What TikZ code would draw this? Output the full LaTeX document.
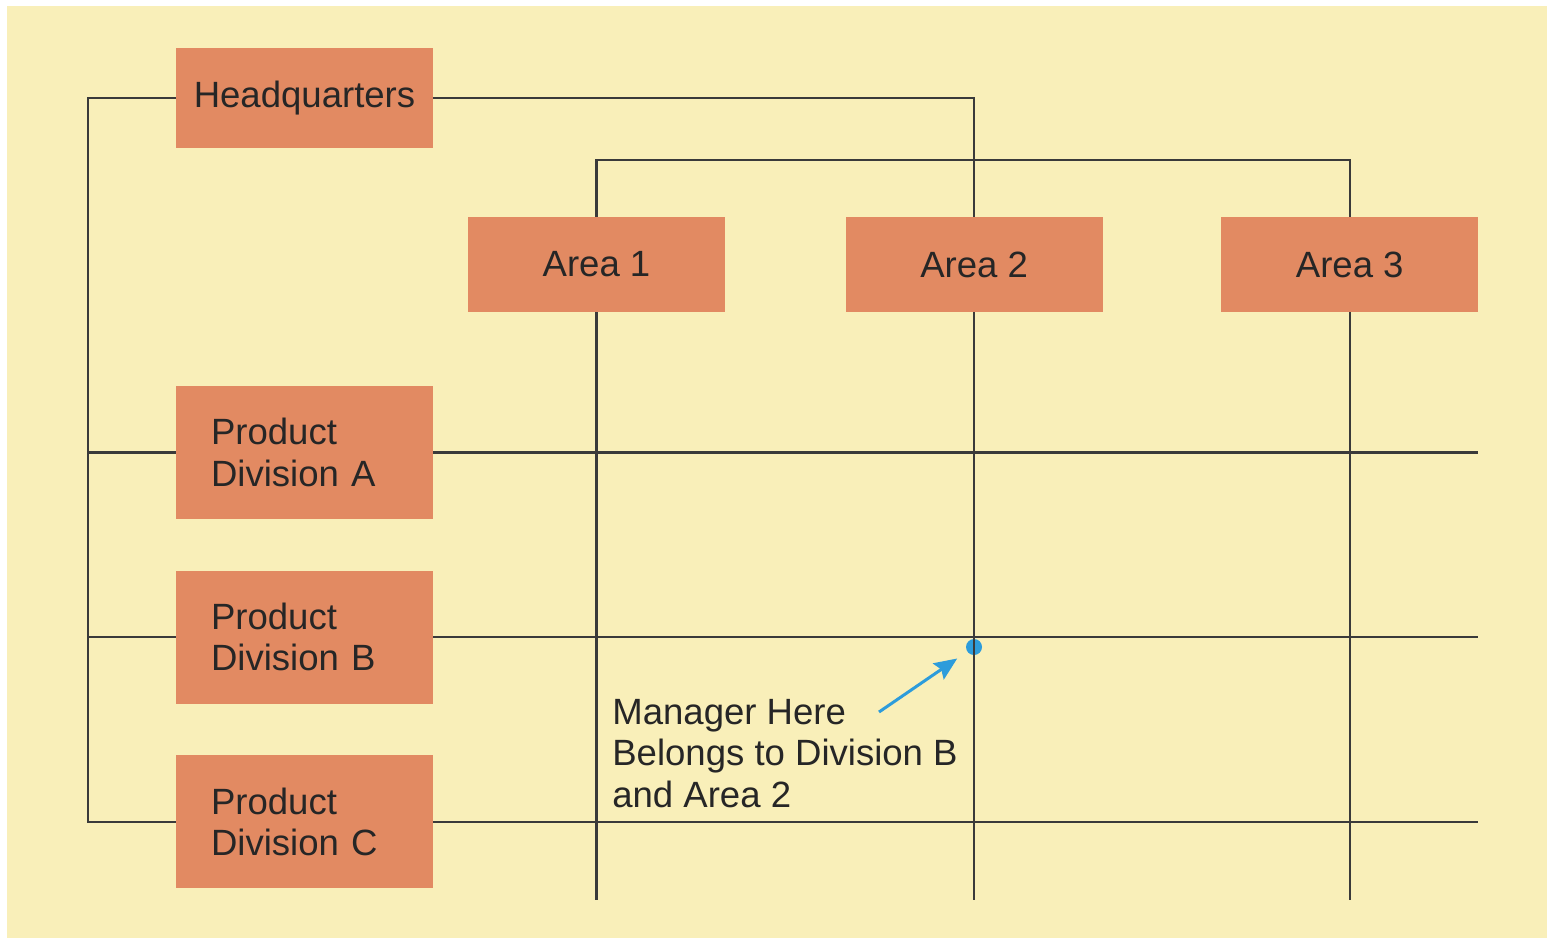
\documentclass[tikz,border=0pt]{standalone}
\usepackage{fontspec}
\setmainfont{Liberation Sans}
\usepackage{tikz}
\usetikzlibrary{arrows.meta,positioning}
\definecolor{paper}{RGB}{249,239,185}
\definecolor{brick}{RGB}{226,138,98}
\definecolor{wire}{RGB}{58,58,58}
\definecolor{pin}{RGB}{45,156,219}
\newcommand{\boxfont}{\fontsize{20.8pt}{23.5pt}\selectfont}
\tikzset{
    %Define style for boxes
    unitrect/.style={
           rectangle,
           fill=brick,
           minimum width=5.14cm,
           minimum height=1.9cm,
           inner sep=0pt,
           font=\boxfont,
           text=black!85,
           text centered},
    hqrect/.style={
           unitrect,
           minimum height=2cm},
    divrect/.style={
           unitrect,
           minimum height=2.66cm,
           text width=3.74cm,
           align=left,
           inner xsep=0.7cm},
    note/.style={
           font=\boxfont,
           align=left,
           inner sep=0pt,
           text=black!85},
    dot/.style={
           circle,
           fill=pin,
           minimum size=0.32cm,
           inner sep=0pt},
    % Define line styles
    wireline/.style={
           draw=wire,
           line width=1.3pt},
    pointer/.style={
           draw=pin,
           line width=1.7pt,
           -{Stealth[length=13pt,width=11pt,inset=2pt]},
           shorten >=0.24cm}
}
\begin{document}
\begin{tikzpicture}[x=0.02cm,y=-0.02cm]
\fill[paper] (7,6) rectangle (1547,938);
\useasboundingbox (0,0) rectangle (1547,940);
\node[hqrect](1) at (304.5,98){Headquarters};
\node[unitrect](2) at (596.5,264.5){Area 1};
\node[unitrect, right=2.4cm of 2](3){Area 2};
\node[unitrect, right=2.36cm of 3](4){Area 3};
\node[divrect](5) at (304.5,452.5){Product\\Division A};
\node[divrect, below=1.02cm of 5](6){Product\\Division B};
\node[divrect, below=1.02cm of 6](7){Product\\Division C};
\node[note, anchor=north west](8) at (612,699){Manager Here\\Belongs to Division B\\and Area 2};
\node[dot](9) at (974,647){};
\coordinate (spine) at (88,0);
\coordinate (rim) at (1478,0);
\coordinate (foot) at (0,900);
\coordinate (bar) at (0,160);
\coordinate (tail) at (879,712);
\path[wireline]
	(1.west) -| (spine |- 7.west) -- (7.west)
	(spine |- 5.west) -- (5.west)
	(spine |- 6.west) -- (6.west)
	(1.east) -| (3.north)
	(2.north) |- (bar -| 4.north) -- (4.north)
	(2.south) -- (2.south |- foot)
	(3.south) -- (3.south |- foot)
	(4.south) -- (4.south |- foot)
	(5.east) -- (5.east -| rim)
	(6.east) -- (6.east -| rim)
	(7.east) -- (7.east -| rim);
\draw[pointer] (tail) -- (9);
\end{tikzpicture}
\end{document}
